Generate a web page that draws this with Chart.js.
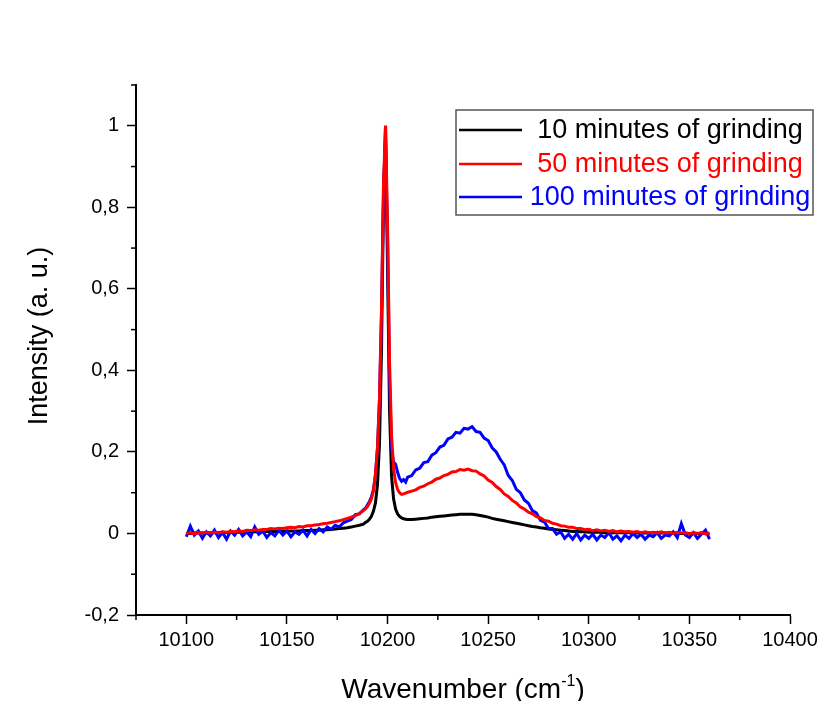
<html>
<head>
    <title>Intensity vs wavenumber</title>
    <style>
        body {
            margin: 0;
            background: #ffffff;
        }
        canvas {
            display: block;
        }
    </style>
    <script src="https://cdn.jsdelivr.net/npm/chart.js"></script>
</head>
<body>
    <canvas id="spectrumChart" width="822" height="701"></canvas>
    <script>
        // wavenumber grid (cm-1), denser around the sharp peak
        var wavenumber = [
            10100, 10102, 10104, 10106, 10108, 10110, 10112, 10114, 10116, 10118,
            10120, 10122, 10124, 10126, 10128, 10130, 10132, 10134, 10136, 10138,
            10140, 10142, 10144, 10146, 10148, 10150, 10152, 10154, 10156, 10158,
            10160, 10162, 10164, 10166, 10168, 10170, 10172, 10174, 10176, 10178,
            10180, 10182, 10184, 10186, 10188,
            10189, 10190, 10191, 10192, 10193, 10194, 10195, 10196, 10197, 10198,
            10199, 10200, 10201, 10202, 10203, 10204, 10205, 10206, 10207, 10208,
            10209, 10210,
            10212, 10214, 10216, 10218, 10220, 10222, 10224, 10226, 10228, 10230,
            10232, 10234, 10236, 10238, 10240, 10242, 10244, 10246, 10248, 10250,
            10252, 10254, 10256, 10258, 10260, 10262, 10264, 10266, 10268, 10270,
            10272, 10274, 10276, 10278, 10280, 10282, 10284, 10286, 10288, 10290,
            10292, 10294, 10296, 10298, 10300, 10302, 10304, 10306, 10308, 10310,
            10312, 10314, 10316, 10318, 10320, 10322, 10324, 10326, 10328, 10330,
            10332, 10334, 10336, 10338, 10340, 10342, 10344, 10346, 10348, 10350,
            10352, 10354, 10356, 10358, 10360
        ];

        var grinding10 = [
            0.000, 0.000, 0.001, 0.001, 0.001, 0.001, 0.002, 0.002, 0.002, 0.002,
            0.002, 0.003, 0.003, 0.003, 0.003, 0.004, 0.004, 0.004, 0.004, 0.004,
            0.005, 0.005, 0.005, 0.005, 0.005, 0.006, 0.006, 0.006, 0.006, 0.007,
            0.007, 0.007, 0.008, 0.008, 0.009, 0.009, 0.010, 0.011, 0.012, 0.013,
            0.014, 0.016, 0.018, 0.020, 0.023,
            0.027, 0.030, 0.035, 0.042, 0.055, 0.075, 0.120, 0.220, 0.450, 0.820,
            1.000, 0.650, 0.300, 0.140, 0.085, 0.060, 0.048, 0.042, 0.038, 0.036,
            0.035, 0.034,
            0.034, 0.035, 0.036, 0.037, 0.038, 0.040, 0.041, 0.042, 0.043, 0.044,
            0.045, 0.046, 0.047, 0.047, 0.047, 0.047, 0.046, 0.044, 0.042, 0.040,
            0.037, 0.035, 0.033, 0.031, 0.029, 0.027, 0.025, 0.023, 0.021, 0.019,
            0.017, 0.016, 0.014, 0.013, 0.011, 0.010, 0.009, 0.008, 0.007, 0.006,
            0.005, 0.005, 0.004, 0.004, 0.003, 0.003, 0.003, 0.003, 0.002, 0.002,
            0.002, 0.002, 0.002, 0.002, 0.002, 0.001, 0.001, 0.001, 0.001, 0.001,
            0.001, 0.001, 0.001, 0.001, 0.001, 0.001, 0.000, 0.000, 0.000, 0.000,
            0.000, 0.000, 0.000, 0.000, 0.000
        ];

        var grinding50 = [
            0.000, 0.002, -0.001, 0.002, 0.001, 0.003, 0.001, 0.003, 0.002, 0.004,
            0.003, 0.005, 0.004, 0.006, 0.005, 0.008, 0.007, 0.009, 0.008, 0.010,
            0.010, 0.012, 0.011, 0.013, 0.012, 0.014, 0.015, 0.014, 0.017, 0.016,
            0.019, 0.019, 0.021, 0.022, 0.024, 0.025, 0.027, 0.029, 0.031, 0.034,
            0.037, 0.040, 0.044, 0.049, 0.056,
            0.060, 0.066, 0.074, 0.085, 0.105, 0.145, 0.210, 0.330, 0.550, 0.860,
            1.000, 0.760, 0.420, 0.240, 0.160, 0.125, 0.108, 0.100, 0.096, 0.097,
            0.099, 0.101,
            0.104, 0.107, 0.113, 0.116, 0.122, 0.126, 0.133, 0.136, 0.142, 0.145,
            0.151, 0.152, 0.157, 0.155, 0.158, 0.154, 0.153, 0.146, 0.141, 0.131,
            0.125, 0.115, 0.108, 0.097, 0.091, 0.081, 0.075, 0.065, 0.060, 0.052,
            0.048, 0.041, 0.038, 0.032, 0.030, 0.025, 0.023, 0.019, 0.018, 0.015,
            0.015, 0.012, 0.012, 0.009, 0.010, 0.007, 0.009, 0.006, 0.008, 0.005,
            0.007, 0.004, 0.006, 0.004, 0.005, 0.003, 0.005, 0.002, 0.004, 0.002,
            0.003, 0.001, 0.004, 0.001, 0.003, 0.000, 0.003, 0.001, 0.002, -0.001,
            0.002, 0.000, 0.002, -0.001, 0.001
        ];

        var grinding100 = [
            -0.008, 0.018, -0.004, 0.006, -0.012, 0.004, -0.006, 0.008, -0.010, 0.002,
            -0.014, 0.006, -0.004, 0.010, -0.006, 0.004, -0.008, 0.016, -0.002, 0.006,
            -0.010, 0.002, -0.006, 0.008, -0.004, 0.006, -0.008, 0.004, -0.002, 0.008,
            -0.006, 0.010, 0.000, 0.012, 0.004, 0.016, 0.010, 0.020, 0.016, 0.026,
            0.030, 0.034, 0.046, 0.048, 0.058,
            0.062, 0.070, 0.078, 0.090, 0.108, 0.145, 0.210, 0.330, 0.540, 0.840,
            0.970, 0.720, 0.380, 0.210, 0.175, 0.170, 0.150, 0.135, 0.128, 0.132,
            0.126, 0.138,
            0.142, 0.156, 0.160, 0.174, 0.176, 0.192, 0.198, 0.212, 0.216, 0.232,
            0.236, 0.248, 0.246, 0.258, 0.256, 0.262, 0.250, 0.248, 0.234, 0.228,
            0.210, 0.200, 0.182, 0.168, 0.142, 0.130, 0.108, 0.100, 0.082, 0.074,
            0.056, 0.050, 0.032, 0.028, 0.012, 0.012, -0.002, 0.004, -0.012, -0.002,
            -0.014, 0.000, -0.016, -0.004, -0.012, -0.002, -0.016, -0.004, -0.010, 0.002,
            -0.014, -0.006, -0.018, -0.004, -0.012, 0.000, -0.010, -0.002, -0.014, -0.004,
            -0.008, 0.002, -0.012, -0.004, -0.006, 0.004, -0.010, 0.024, -0.004, -0.010,
            0.002, -0.012, -0.002, 0.008, -0.014
        ];

        var seriesNames = ['10 minutes of grinding', '50 minutes of grinding', '100 minutes of grinding'];
        var seriesColors = ['#000000', '#ff0000', '#0000ff'];

        var xTicks = [10100, 10150, 10200, 10250, 10300, 10350, 10400];
        var xMinorTicks = [10075, 10125, 10175, 10225, 10275, 10325, 10375];
        var yTicks = [-0.2, 0, 0.2, 0.4, 0.6, 0.8, 1];
        var yMinorTicks = [-0.1, 0.1, 0.3, 0.5, 0.7, 0.9, 1.1];

        var fontFamily = 'Arial, "Liberation Sans", sans-serif';

        function toPoints(values) {
            return wavenumber.map(function (w, i) {
                return { x: w, y: values[i] };
            });
        }

        // minor ticks, axis titles and the boxed legend
        var decorPlugin = {
            id: 'decor',
            afterDraw: function (chart) {
                var ctx = chart.ctx;
                var area = chart.chartArea;
                var xs = chart.scales.x;
                var ys = chart.scales.y;

                ctx.save();
                ctx.strokeStyle = '#000';
                ctx.lineWidth = 1.5;
                xMinorTicks.forEach(function (v) {
                    var px = xs.getPixelForValue(v);
                    ctx.beginPath();
                    ctx.moveTo(px, area.bottom);
                    ctx.lineTo(px, area.bottom + 5);
                    ctx.stroke();
                });
                yMinorTicks.forEach(function (v) {
                    var py = ys.getPixelForValue(v);
                    ctx.beginPath();
                    ctx.moveTo(area.left, py);
                    ctx.lineTo(area.left - 5, py);
                    ctx.stroke();
                });

                // x title with superscript
                ctx.fillStyle = '#000';
                ctx.textBaseline = 'alphabetic';
                ctx.textAlign = 'left';
                var mainFont = '28px ' + fontFamily;
                var supFont = '16px ' + fontFamily;
                ctx.font = mainFont;
                var w1 = ctx.measureText('Wavenumber (cm').width;
                var w3 = ctx.measureText(')').width;
                ctx.font = supFont;
                var w2 = ctx.measureText('-1').width;
                var startX = (area.left + area.right) / 2 - (w1 + w2 + w3) / 2;
                var baseY = 698;
                ctx.font = mainFont;
                ctx.fillText('Wavenumber (cm', startX, baseY);
                ctx.font = supFont;
                ctx.fillText('-1', startX + w1, baseY - 12);
                ctx.font = mainFont;
                ctx.fillText(')', startX + w1 + w2, baseY);

                // y title
                ctx.save();
                ctx.translate(47, 336);
                ctx.rotate(-Math.PI / 2);
                ctx.textAlign = 'center';
                ctx.font = '27px ' + fontFamily;
                ctx.fillText('Intensity (a. u.)', 0, 0);
                ctx.restore();

                // legend
                var box = { left: 456, top: 110, right: 813, bottom: 215 };
                ctx.fillStyle = '#fff';
                ctx.fillRect(box.left, box.top, box.right - box.left, box.bottom - box.top);
                ctx.strokeStyle = '#555';
                ctx.lineWidth = 1.5;
                ctx.strokeRect(box.left, box.top, box.right - box.left, box.bottom - box.top);
                var rows = [130, 164, 197];
                ctx.font = '27px ' + fontFamily;
                ctx.textAlign = 'center';
                ctx.textBaseline = 'middle';
                for (var i = 0; i < seriesNames.length; i++) {
                    ctx.strokeStyle = seriesColors[i];
                    ctx.lineWidth = 2.5;
                    ctx.beginPath();
                    ctx.moveTo(459, rows[i]);
                    ctx.lineTo(522, rows[i]);
                    ctx.stroke();
                    ctx.fillStyle = seriesColors[i];
                    ctx.fillText(seriesNames[i], 670, rows[i] + 1);
                }
                ctx.restore();
            }
        };

        var seriesValues = [grinding10, grinding50, grinding100];
        var drawOrder = [3, 1, 2];

        var ctx = document.getElementById('spectrumChart').getContext('2d');
        var spectrumChart = new Chart(ctx, {
            type: 'line',
            data: {
                datasets: seriesNames.map(function (name, i) {
                    return {
                        label: name,
                        data: toPoints(seriesValues[i]),
                        borderColor: seriesColors[i],
                        borderWidth: 3,
                        pointRadius: 0,
                        tension: 0,
                        fill: false,
                        order: drawOrder[i]
                    };
                })
            },
            options: {
                responsive: false,
                animation: false,
                layout: {
                    padding: { top: 85, right: 32, left: 0, bottom: 0 }
                },
                plugins: {
                    legend: { display: false },
                    tooltip: { enabled: false }
                },
                scales: {
                    x: {
                        type: 'linear',
                        min: 10075,
                        max: 10400,
                        afterBuildTicks: function (scale) {
                            scale.ticks = xTicks.map(function (v) { return { value: v }; });
                        },
                        afterFit: function (scale) {
                            scale.height = 86;
                        },
                        ticks: {
                            color: '#000',
                            font: { size: 20, family: fontFamily },
                            padding: 4,
                            maxRotation: 0,
                            autoSkip: false,
                            callback: function (v) { return String(v); }
                        },
                        grid: {
                            drawOnChartArea: false,
                            tickLength: 9,
                            tickWidth: 1.5,
                            tickColor: '#000'
                        },
                        border: { color: '#000', width: 2 }
                    },
                    y: {
                        min: -0.2,
                        max: 1.1,
                        afterBuildTicks: function (scale) {
                            scale.ticks = yTicks.map(function (v) { return { value: v }; });
                        },
                        afterFit: function (scale) {
                            scale.width = 136;
                        },
                        ticks: {
                            color: '#000',
                            font: { size: 20, family: fontFamily },
                            padding: 8,
                            autoSkip: false,
                            callback: function (v) { return String(v).replace('.', ','); }
                        },
                        grid: {
                            drawOnChartArea: false,
                            tickLength: 9,
                            tickWidth: 1.5,
                            tickColor: '#000'
                        },
                        border: { color: '#000', width: 2 }
                    }
                }
            },
            plugins: [decorPlugin]
        });
    </script>
</body>
</html>
